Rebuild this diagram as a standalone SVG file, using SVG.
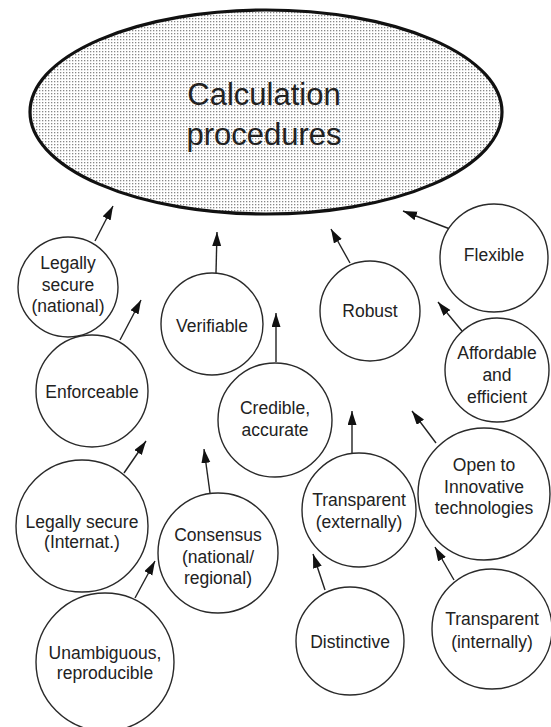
<svg xmlns="http://www.w3.org/2000/svg" width="551" height="727" viewBox="0 0 551 727">
<style>
.n{fill:#fff;stroke:#2a2a2a;stroke-width:1.4}
.t{font-family:"Liberation Sans",Arial,sans-serif;font-size:17.5px;fill:#222;text-anchor:middle}
.big{font-size:31px}
.c line{stroke:#222;stroke-width:1.4;marker-end:url(#ah)}
</style>
<defs>
<pattern id="dots" width="3" height="3" patternUnits="userSpaceOnUse">
<rect width="3" height="3" fill="#fff"/>
<rect width="1.3" height="1.3" fill="#888"/>
</pattern>
<marker id="ah" markerUnits="userSpaceOnUse" markerWidth="15" markerHeight="10" refX="14" refY="4.5" orient="auto">
<path d="M0,0 L14,4.5 L0,9 z" fill="#111"/>
</marker>
</defs>
<rect width="551" height="727" fill="#fff"/>
<g id="calc">
<ellipse cx="266" cy="112" rx="236" ry="102" fill="url(#dots)" stroke="#111" stroke-width="3.2"/>
<text class="t big" x="264" y="105">Calculation</text>
<text class="t big" x="264" y="145">procedures</text>
</g>
<g class="c" id="connectors">
<line x1="95" y1="241" x2="113" y2="206"/>
<line x1="120" y1="340" x2="141" y2="300"/>
<line x1="216" y1="273" x2="217" y2="232"/>
<line x1="276" y1="362" x2="276" y2="313"/>
<line x1="350" y1="263" x2="331" y2="229"/>
<line x1="450" y1="229" x2="403" y2="211"/>
<line x1="462" y1="331" x2="438" y2="302"/>
<line x1="436" y1="443" x2="412" y2="411"/>
<line x1="352" y1="453" x2="352" y2="411"/>
<line x1="325" y1="590" x2="313" y2="554"/>
<line x1="454" y1="580" x2="435" y2="547"/>
<line x1="124" y1="473" x2="146" y2="441"/>
<line x1="210" y1="493" x2="204" y2="449"/>
<line x1="135" y1="598" x2="155" y2="561"/>
</g>
<g id="legal-national">
<circle class="n" cx="68" cy="287" r="50"/>
<text class="t" x="68" y="269">Legally</text>
<text class="t" x="68" y="291">secure</text>
<text class="t" x="68" y="312">(national)</text>
</g>
<g id="enforceable">
<circle class="n" cx="92" cy="391" r="56"/>
<text class="t" x="92" y="398">Enforceable</text>
</g>
<g id="verifiable">
<circle class="n" cx="212" cy="324" r="51"/>
<text class="t" x="212" y="332">Verifiable</text>
</g>
<g id="credible">
<circle class="n" cx="275" cy="420" r="57"/>
<text class="t" x="275" y="414">Credible,</text>
<text class="t" x="275" y="436">accurate</text>
</g>
<g id="robust">
<circle class="n" cx="370" cy="311" r="50"/>
<text class="t" x="370" y="317">Robust</text>
</g>
<g id="flexible">
<circle class="n" cx="494" cy="258" r="54"/>
<text class="t" x="494" y="261">Flexible</text>
</g>
<g id="affordable">
<circle class="n" cx="497" cy="370" r="52"/>
<text class="t" x="497" y="359">Affordable</text>
<text class="t" x="497" y="381">and</text>
<text class="t" x="497" y="403">efficient</text>
</g>
<g id="open">
<circle class="n" cx="484" cy="494" r="66"/>
<text class="t" x="484" y="471">Open to</text>
<text class="t" x="484" y="493">Innovative</text>
<text class="t" x="484" y="514">technologies</text>
</g>
<g id="transp-ext">
<circle class="n" cx="359" cy="510" r="57"/>
<text class="t" x="359" y="506">Transparent</text>
<text class="t" x="359" y="528">(externally)</text>
</g>
<g id="distinctive">
<circle class="n" cx="350" cy="641" r="54"/>
<text class="t" x="350" y="648">Distinctive</text>
</g>
<g id="transp-int">
<circle class="n" cx="492" cy="629" r="60"/>
<text class="t" x="492" y="625">Transparent</text>
<text class="t" x="492" y="648">(internally)</text>
</g>
<g id="legal-internat">
<circle class="n" cx="82" cy="526" r="66"/>
<text class="t" x="82" y="528">Legally secure</text>
<text class="t" x="82" y="548">(Internat.)</text>
</g>
<g id="consensus">
<circle class="n" cx="218" cy="553" r="60"/>
<text class="t" x="218" y="541">Consensus</text>
<text class="t" x="218" y="563">(national/</text>
<text class="t" x="218" y="584">regional)</text>
</g>
<g id="unambiguous">
<circle class="n" cx="105" cy="662" r="69"/>
<text class="t" x="105" y="659">Unambiguous,</text>
<text class="t" x="105" y="679">reproducible</text>
</g>
</svg>
